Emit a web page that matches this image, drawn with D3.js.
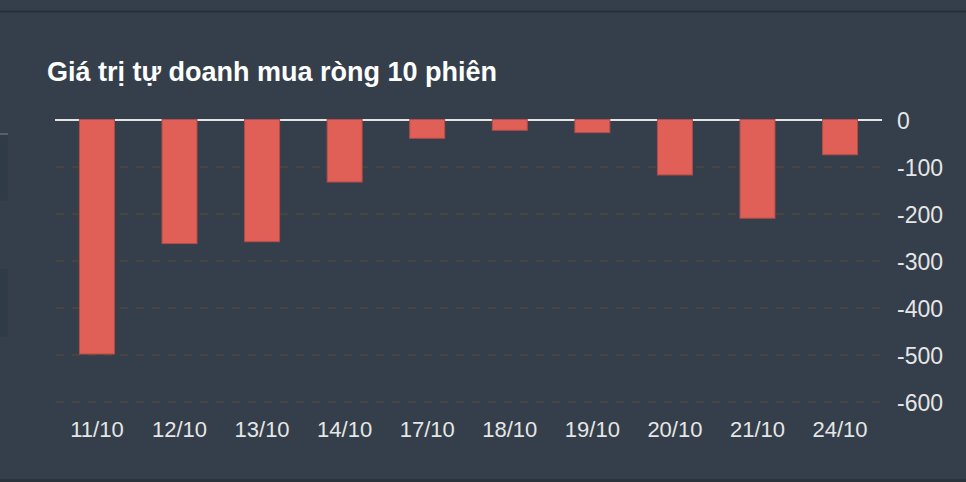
<!DOCTYPE html>
<html>
<head>
<meta charset="utf-8">
<script src="https://cdn.jsdelivr.net/npm/d3@7/dist/d3.min.js"></script>
<style>
  html, body { margin: 0; padding: 0; background: #35404c; }
  svg { display: block; }
</style>
</head>
<body>
<svg id="chart" width="966" height="482"></svg>
<script>
const title = "Giá trị tự doanh mua ròng 10 phiên";
const categories = ["11/10","12/10","13/10","14/10","17/10","18/10","19/10","20/10","21/10","24/10"];
const values = [-499, -264, -260, -133, -40, -23, -28, -118, -210, -75];
const yTicks = [0, -100, -200, -300, -400, -500, -600];

const W = 966, H = 482;
const svg = d3.select("#chart");

// background
svg.append("rect").attr("width", W).attr("height", H).attr("fill", "#343f4b");
// frame lines / page artefacts
svg.append("rect").attr("x", 0).attr("y", 10.5).attr("width", W).attr("height", 2).attr("fill", "#262e38");
svg.append("rect").attr("x", 0).attr("y", 479).attr("width", W).attr("height", 3).attr("fill", "#2a323c");
svg.append("rect").attr("x", 0).attr("y", 133).attr("width", 8).attr("height", 2).attr("fill", "#55606b");
svg.append("rect").attr("x", 0).attr("y", 135).attr("width", 8).attr("height", 66).attr("fill", "#303b48");
svg.append("rect").attr("x", 0).attr("y", 269).attr("width", 8).attr("height", 68).attr("fill", "#303b48");

// title
svg.append("text")
  .attr("x", 47).attr("y", 81)
  .attr("fill", "#ffffff")
  .attr("font-family", "'Liberation Sans', Arial, sans-serif")
  .attr("font-weight", "bold")
  .attr("font-size", 27)
  .text(title);

const x = d3.scaleBand()
  .domain(categories)
  .range([55, 882])
  .paddingInner(0.564)
  .paddingOuter(0.29);

const y = d3.scaleLinear()
  .domain([-600, 0])
  .range([402, 120]);

// gridlines
const grid = svg.append("g");
grid.selectAll("line")
  .data(yTicks.filter(d => d !== 0))
  .join("line")
  .attr("x1", 56).attr("x2", 881)
  .attr("y1", d => y(d)).attr("y2", d => y(d))
  .attr("stroke", "#47453f")
  .attr("stroke-width", 2)
  .attr("stroke-dasharray", "8,8");

// zero line
svg.append("line")
  .attr("x1", 55).attr("x2", 882)
  .attr("y1", y(0)).attr("y2", y(0))
  .attr("stroke", "#e4e4e4")
  .attr("stroke-width", 2);

// bars
svg.append("g").selectAll("rect")
  .data(values)
  .join("rect")
  .attr("x", (d, i) => x(categories[i]) + 0.5)
  .attr("y", d => y(0) - 0.5)
  .attr("width", x.bandwidth() - 1)
  .attr("height", d => y(d) - y(0))
  .attr("fill", "#e05f56")
  .attr("stroke", "#b24d4b")
  .attr("stroke-width", 1);

// y axis (right)
const yAxis = d3.axisRight(y).tickValues(yTicks).tickSize(0).tickPadding(0).tickFormat(d => String(d));
const gy = svg.append("g").attr("transform", "translate(897,0)").call(yAxis);
gy.select(".domain").remove();
gy.selectAll("text")
  .attr("fill", "#e6e6e6")
  .attr("font-family", "'Liberation Sans', Arial, sans-serif")
  .attr("font-size", 23)
  .attr("dy", "0.36em");

// x axis
const xAxis = d3.axisBottom(x).tickSize(0).tickPadding(0);
const gx = svg.append("g").attr("transform", "translate(0,437)").call(xAxis);
gx.select(".domain").remove();
gx.selectAll("text")
  .attr("fill", "#e6e6e6")
  .attr("font-family", "'Liberation Sans', Arial, sans-serif")
  .attr("font-size", 22)
  .attr("dy", 0);
</script>
</body>
</html>
